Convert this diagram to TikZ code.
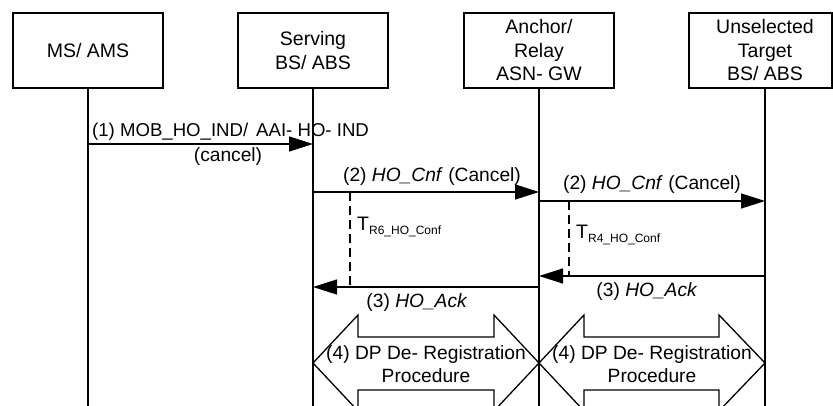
\documentclass[tikz,border=0pt]{standalone}
\usepackage{fontspec}
\setmainfont{Liberation Sans}
\usetikzlibrary{arrows.meta}
\begin{document}
\begin{tikzpicture}[x=1pt,y=-1pt,
  every node/.style={font=\fontsize{19.5}{23.5}\selectfont, inner sep=0pt},
  entity/.style={draw, line width=1.3pt, minimum width=150pt, minimum height=75pt, align=center},
  lifeline/.style={line width=1.3pt},
  msg/.style={line width=1.3pt, -{Triangle[length=24pt,width=15pt]}},
  msglabel/.style={font=\fontsize{19.2}{23}\selectfont},
  timer/.style={line width=1.3pt, dash pattern=on 9pt off 5pt},
  procarrow/.style={line width=1.3pt, line join=miter},
  lbl/.style={align=center}]
\useasboundingbox (0,0) rectangle (833,406);
\fill[white] (0,0) rectangle (833,406);

% entities
\node[entity] (ms)  at (88,50.5)  {MS/ AMS};
\node[entity] (sbs) at (313,50.5) {Serving\\BS/ ABS};
\node[entity] (asn) at (539,50.5) {Anchor/\\Relay\\ASN- GW};
\node[entity, minimum width=143pt] (tbs) at (760.5,50.5) {};
\node[lbl] (tbsl) at (765,50.5) {Unselected\\Target\\BS/ ABS};

% lifeline ends
\coordinate (msb)  at (88,406);
\coordinate (sbsb) at (313,406);
\coordinate (asnb) at (539,406);
\coordinate (tbst) at (765,88);
\coordinate (tbsb) at (765,406);
\draw[lifeline] (ms) -- (msb);
\draw[lifeline] (sbs) -- (sbsb);
\draw[lifeline] (asn) -- (asnb);
\draw[lifeline] (tbst) -- (tbsb);

% message end points
\coordinate (m1a) at (88,144);  \coordinate (m1b) at (313,144);
\coordinate (m2a) at (313,192); \coordinate (m2b) at (539,192);
\coordinate (m3a) at (539,201); \coordinate (m3b) at (765,201);
\coordinate (m4a) at (765,276); \coordinate (m4b) at (539,276);
\coordinate (m5a) at (539,287); \coordinate (m5b) at (313,287);

% timers
\coordinate (t6a) at (350,192); \coordinate (t6b) at (350,287);
\coordinate (t4a) at (569,201); \coordinate (t4b) at (569,276);
\draw[timer] (t6a) -- (t6b);
\draw[timer] (t4a) -- (t4b);

% messages
\draw[msg] (m1a) -- (m1b);
\draw[msg] (m2a) -- (m2b);
\draw[msg] (m3a) -- (m3b);
\draw[msg] (m4a) -- (m4b);
\draw[msg] (m5a) -- (m5b);

% message labels
\node[anchor=base west, font=\fontsize{18.6}{22}\selectfont] (l1) at (92,137)
  {(1) MOB\_HO\_IND/\hspace{8pt}AAI- HO- IND};
\node[anchor=base, msglabel] (l1b) at (228,162) {(cancel)};
\node[anchor=base, msglabel] (l2) at (432,182) {(2) \textit{HO\_Cnf} (Cancel)};
\node[anchor=base, msglabel] (l3) at (652,190) {(2) \textit{HO\_Cnf} (Cancel)};
\node[anchor=base, msglabel] (l4) at (647,296) {(3) \textit{HO\_Ack}};
\node[anchor=base, msglabel] (l5) at (417,307) {(3) \textit{HO\_Ack}};

% timer labels
\node[anchor=base west] (t6) at (357,231) {T\raisebox{-4pt}{\fontsize{12}{14}\selectfont R6\_HO\_Conf}};
\node[anchor=base west] (t4) at (576,239) {T\raisebox{-4pt}{\fontsize{12}{14}\selectfont R4\_HO\_Conf}};

% DP de-registration procedures (double-headed block arrows)
\draw[procarrow] (313,363) -- (358,315) -- (358,337) -- (494,337) -- (494,315)
  -- (539,363) -- (494,411) -- (494,390) -- (358,390) -- (358,411) -- cycle;
\draw[procarrow] (539,363) -- (584,315) -- (584,337) -- (719,337) -- (719,315)
  -- (765,363) -- (719,411) -- (719,390) -- (584,390) -- (584,411) -- cycle;
\node[lbl, msglabel] (p1) at (426,364) {(4) DP De- Registration\\Procedure};
\node[lbl, msglabel] (p2) at (652,364) {(4) DP De- Registration\\Procedure};
\end{tikzpicture}
\end{document}
